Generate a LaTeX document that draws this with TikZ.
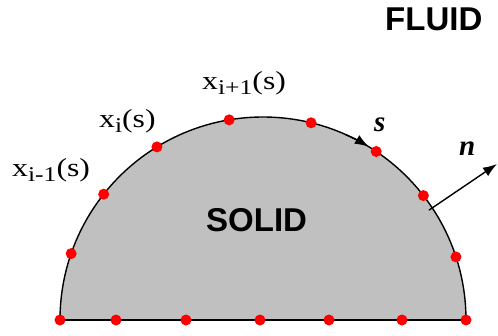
\documentclass[tikz,border=0pt]{standalone}
\usepackage{fontspec}
\setmainfont{Liberation Serif}
\newfontfamily\sansb{Liberation Sans}
\usetikzlibrary{arrows.meta,calc}
\definecolor{solidgray}{RGB}{192,192,192}
\definecolor{dotred}{RGB}{255,0,0}
\newcommand{\subtxt}[1]{\raisebox{-5pt}{\fontsize{21}{21}\selectfont #1}}
\newcommand{\wide}[1]{\scalebox{1.22}[1]{#1}}
\tikzset{
  lbl/.style={anchor=base west,inner sep=0pt,font=\fontsize{26}{26}\selectfont},
  vec/.style={anchor=base west,inner sep=0pt,font=\fontsize{29}{29}\selectfont\bfseries\itshape},
  region/.style={anchor=base west,inner sep=0pt,font=\sansb\bfseries\fontsize{33}{33}\selectfont},
  bdot/.style={circle,fill=dotred,inner sep=0pt,minimum size=11pt},
  boundary/.style={line width=1.4pt,black},
  baseline/.style={line width=2pt,black},
  arr/.style={line width=1.4pt,-{Latex[length=14pt,width=10pt]}}
}
\begin{document}
\begin{tikzpicture}[x=1pt,y=1pt]
\useasboundingbox (0,0) rectangle (498,335);
\coordinate (C) at (263,15);
% solid region
\fill[solidgray] (60,15) arc[start angle=180,end angle=0,radius=203] -- cycle;
\draw[boundary] (60,15) arc[start angle=180,end angle=0,radius=203];
\draw[baseline] (60,15) -- (466,15);
% tangent arrow s
\coordinate (sa) at ($(C)+(66:203)$);
\coordinate (sb) at ($(C)+(58.6:203)$);
\draw[arr] (sa) arc[start angle=66,end angle=58.6,radius=203];
% normal arrow n
\coordinate (nb) at ($(C)+(33.5:199)$);
\coordinate (nt) at (497,171);
\draw[arr] (nb) -- (nt);
% boundary dots on arc
\foreach \a [count=\i] in {180,160.9,141.7,121.5,99.6,76.3,56.1,37.8,18.1,0}
  \node[bdot] (a\i) at ($(C)+(\a:203)$) {};
% dots on base
\foreach \x [count=\i] in {116,186,260,329,402}
  \node[bdot] (b\i) at (\x,15) {};
% labels
\node[lbl] (lm) at (12,158) {\wide{x\subtxt{i-1}(s)}};
\node[lbl] (l0) at (99,207) {\wide{x\subtxt{i}(s)}};
\node[lbl] (lp) at (202,245) {\wide{x\subtxt{i+1}(s)}};
\node[vec] (ls) at (374,203) {s};
\node[vec] (ln) at (459,179) {n};
\node[region] (fluid) at (385,304) {FLUID};
\node[region] (solid) at (206,103) {SOLID};
\end{tikzpicture}
\end{document}
